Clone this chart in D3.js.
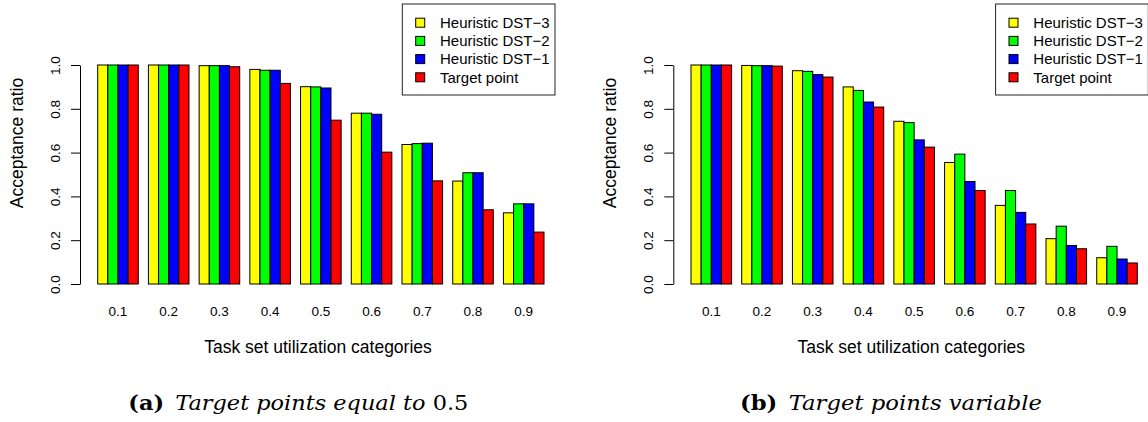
<!DOCTYPE html>
<html>
<head>
<meta charset="utf-8">
<script src="https://cdn.jsdelivr.net/npm/d3@7"></script>
<style>
  body { margin: 0; background: #fff; }
  svg { display: block; }
</style>
</head>
<body>
<div id="content"></div>
<script>
// data
categories = ["0.1", "0.2", "0.3", "0.4", "0.5", "0.6", "0.7", "0.8", "0.9"]
seriesNames = ["Heuristic DST\u22123", "Heuristic DST\u22122", "Heuristic DST\u22121", "Target point"]
seriesColors = ["#ffff00", "#00ff00", "#0000ff", "#ff0000"]
yTicks = [0, 0.2, 0.4, 0.6, 0.8, 1.0]

// (a) target points equal to 0.5
a_dst3   = [1.000, 1.000, 0.997, 0.980, 0.901, 0.780, 0.637, 0.470, 0.325]
a_dst2   = [1.000, 1.000, 0.997, 0.976, 0.900, 0.780, 0.641, 0.508, 0.366]
a_dst1   = [1.000, 1.000, 0.997, 0.976, 0.895, 0.775, 0.643, 0.508, 0.366]
a_target = [1.000, 1.000, 0.992, 0.916, 0.748, 0.602, 0.471, 0.339, 0.237]

// (b) target points variable
b_dst3   = [1.000, 0.998, 0.974, 0.900, 0.743, 0.555, 0.359, 0.207, 0.120]
b_dst2   = [1.000, 0.997, 0.971, 0.884, 0.737, 0.593, 0.427, 0.264, 0.172]
b_dst1   = [1.000, 0.997, 0.956, 0.831, 0.658, 0.468, 0.327, 0.176, 0.114]
b_target = [1.000, 0.995, 0.945, 0.808, 0.625, 0.427, 0.274, 0.161, 0.096]

svgwidth = 1148
svgheight = 422
sansFont = "'Liberation Sans', Arial, sans-serif"
serifFont = "'DejaVu Serif', 'Liberation Serif', serif"

var svg = d3.select("#content").append("svg")
  .attr("width", svgwidth)
  .attr("height", svgheight)

buildPanel = function(offsetX, seriesList) {
  var g = svg.append("g").attr("transform", "translate(" + offsetX + ",0)")

  // group positions: 4 bars + 1 bar of space, like barplot(beside=TRUE)
  var xGroup = d3.scaleBand()
    .domain(categories)
    .range([97.7, 544])
    .paddingInner(0.2)
    .paddingOuter(0)

  var xBar = d3.scaleBand()
    .domain(d3.range(seriesList.length))
    .range([0, xGroup.bandwidth()])

  var yScale = d3.scaleLinear()
    .domain([0, 1])
    .range([284, 65])

  // bars
  for (var s = 0; s < seriesList.length; s++) {
    g.selectAll(".bar" + s)
      .data(seriesList[s])
      .enter().append("rect")
      .attr("class", "bar" + s)
      .attr("x", function(d, i) { return xGroup(categories[i]) + xBar(s) })
      .attr("y", function(d) { return yScale(d) })
      .attr("width", xBar.bandwidth())
      .attr("height", function(d) { return yScale(0) - yScale(d) })
      .attr("fill", seriesColors[s])
      .style("stroke", "#000")
      .style("stroke-width", 1)
  }

  // y axis
  var yAxis = g.append("g")
    .attr("transform", "translate(80,0)")
    .call(d3.axisLeft(yScale).tickValues(yTicks).tickFormat(d3.format(".1f")).tickSize(9).tickSizeOuter(0))
  yAxis.select(".domain").attr("stroke", "#000")
  yAxis.selectAll("line").attr("stroke", "#000")
  yAxis.selectAll("text")
    .attr("x", 0)
    .attr("y", -25)
    .attr("dy", "0.35em")
    .attr("transform", "rotate(-90)")
    .attr("text-anchor", "middle")
    .attr("fill", "#000")
    .style("font-family", sansFont)
    .style("font-size", "13.5px")

  // category names
  g.selectAll(".catLabel")
    .data(categories)
    .enter().append("text")
    .attr("class", "catLabel")
    .attr("x", function(d) { return xGroup(d) + xGroup.bandwidth() / 2 })
    .attr("y", 311.7)
    .attr("dy", "0.35em")
    .attr("text-anchor", "middle")
    .attr("fill", "#000")
    .style("font-family", sansFont)
    .style("font-size", "13.5px")
    .text(function(d) { return d })

  // axis titles
  g.append("text")
    .attr("x", 318)
    .attr("y", 346.7)
    .attr("dy", "0.35em")
    .attr("text-anchor", "middle")
    .attr("fill", "#000")
    .style("font-family", sansFont)
    .style("font-size", "17.5px")
    .text("Task set utilization categories")

  g.append("text")
    .attr("transform", "translate(16.7,143) rotate(-90)")
    .attr("dy", "0.35em")
    .attr("text-anchor", "middle")
    .attr("fill", "#000")
    .style("font-family", sansFont)
    .style("font-size", "17.5px")
    .text("Acceptance ratio")

  // legend (the right one runs off the page edge, as in the reference)
  g.append("rect")
    .attr("x", 402.3)
    .attr("y", 4)
    .attr("width", 152.7)
    .attr("height", 91)
    .attr("fill", "#fff")
    .style("stroke", "#222")
    .style("stroke-width", 1)

  var rowY = d3.scalePoint().domain(d3.range(seriesNames.length)).range([22.7, 77.3])
  for (var i = 0; i < seriesNames.length; i++) {
    g.append("rect")
      .attr("x", 415.7)
      .attr("y", rowY(i) - 4.5)
      .attr("width", 9)
      .attr("height", 9)
      .attr("fill", seriesColors[i])
      .style("stroke", "#000")
      .style("stroke-width", 1)
    g.append("text")
      .attr("x", 440)
      .attr("y", rowY(i))
      .attr("dy", "0.35em")
      .attr("text-anchor", "start")
      .attr("fill", "#000")
      .style("font-family", sansFont)
      .style("font-size", "15px")
      .text(seriesNames[i])
  }
}

// sub-caption under each panel, bold label then italic text
addCaption = function(x, label, captionText, captionTail, captionWidth) {
  var cap = svg.append("text")
    .attr("x", x)
    .attr("y", 410)
    .attr("fill", "#000")
    .attr("textLength", captionWidth)
    .attr("lengthAdjust", "spacingAndGlyphs")
    .style("font-family", serifFont)
    .style("font-size", "21px")
  cap.append("tspan").style("font-weight", "bold").text(label)
  cap.append("tspan").style("font-style", "italic").text("\u2002" + captionText)
  if (captionTail) {
    cap.append("tspan").text(" " + captionTail)
  }
}

buildPanel(0, [a_dst3, a_dst2, a_dst1, a_target])
buildPanel(593.3, [b_dst3, b_dst2, b_dst1, b_target])

addCaption(128.3, "(a)", "Target points equal to", "0.5", 340)
addCaption(740, "(b)", "Target points variable", null, 302)
</script>
</body>
</html>
